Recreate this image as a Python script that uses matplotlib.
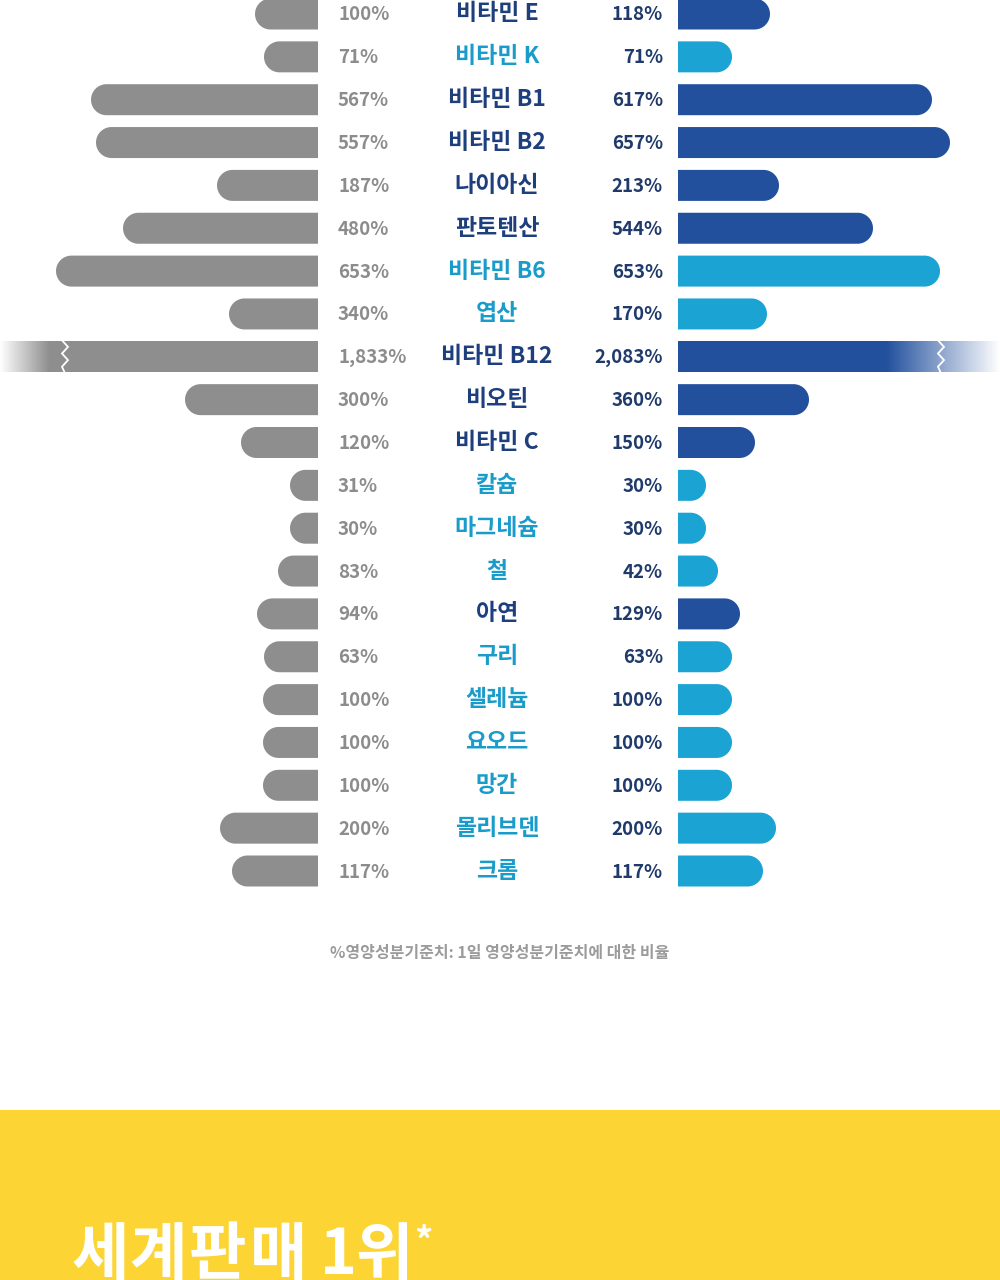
import numpy as np
import matplotlib
matplotlib.use("Agg")
import matplotlib.pyplot as plt
from matplotlib.patches import Polygon, Rectangle

plt.rcParams['font.family'] = ['Noto Sans CJK KR', 'DejaVu Sans']

# ---------------- data ----------------
nutrients = ['비타민 E', '비타민 K', '비타민 B1', '비타민 B2', '나이아신', '판토텐산',
             '비타민 B6', '엽산', '비타민 B12', '비오틴', '비타민 C', '칼슘', '마그네슘',
             '철', '아연', '구리', '셀레늄', '요오드', '망간', '몰리브덴', '크롬']
left_pct = ['100%', '71%', '567%', '557%', '187%', '480%', '653%', '340%', '1,833%',
            '300%', '120%', '31%', '30%', '83%', '94%', '63%', '100%', '100%', '100%',
            '200%', '117%']
right_pct = ['118%', '71%', '617%', '657%', '213%', '544%', '653%', '170%', '2,083%',
             '360%', '150%', '30%', '30%', '42%', '129%', '63%', '100%', '100%', '100%',
             '200%', '117%']
# displayed bar lengths (design scale); None = broken bar
left_bar = [63, 54, 227, 222, 101, 195, 262, 89, None, 133, 77, 28, 28, 40, 61, 54,
            55, 55, 55, 98, 86]
right_bar = [92, 54, 254, 272, 101, 195, 262, 89, None, 131, 77, 28, 28, 40, 62, 54,
             54, 54, 54, 98, 85]
# True = light-blue (cyan) row, False = dark-blue row
light_row = [False, True, False, False, False, False, True, True, False, False, False,
             True, True, True, False, True, True, True, True, True, True]
footnote = '%영양성분기준치: 1일 영양성분기준치에 대한 비율'
banner_chars = ['세', '계', '판', '매', '1', '위']
banner_star = '*'

# ---------------- style ----------------
GRAY = '#8e8e8e'
DARK = '#22509d'
LIGHT = '#1aa3d3'
DARK_TXT = '#1e3f7d'
LIGHT_TXT = '#1a9ccb'
LPCT = '#8c8c8c'
RPCT = '#1f3a6b'
YELLOW = '#FCD535'

W, H = 1000, 1280
LEFT_BASE, RIGHT_BASE = 318, 678
ROW0, STEP = 14, 42.85
BAR_H = 31

fig = plt.figure(figsize=(W / 100, H / 100), dpi=100)
ax = fig.add_axes([0, 0, 1, 1])
ax.set_xlim(0, W)
ax.set_ylim(H, 0)
ax.axis('off')


def rounded_bar(base, length, yc, direction, color):
    r = BAR_H / 2
    rx = min(r, length)
    straight = length - rx
    outer0 = base + direction * straight
    t = np.linspace(-np.pi / 2, np.pi / 2, 40)
    arc_x = outer0 + direction * rx * np.cos(t)
    arc_y = yc + r * np.sin(t)
    pts = [(base, yc - r), (outer0, yc - r)]
    pts += list(zip(arc_x, arc_y))
    pts += [(outer0, yc + r), (base, yc + r)]
    ax.add_patch(Polygon(pts, closed=True, facecolor=color, edgecolor='none', zorder=2))


def fade(x0, x1, yc, alpha_from, alpha_to):
    n = 64
    img = np.ones((1, n, 4))
    img[0, :, 3] = np.linspace(alpha_from, alpha_to, n)
    ax.imshow(img, extent=[x0, x1, yc + BAR_H / 2 + 1, yc - BAR_H / 2 - 1],
              interpolation='bilinear', aspect='auto', zorder=3)


def zigzag(x, yc):
    ys = np.linspace(yc - BAR_H / 2 - 1, yc + BAR_H / 2 + 1, 6)
    xs = [x, x + 6, x, x + 6, x, x + 3]
    ax.plot(xs, ys, color='white', lw=1.3, zorder=4, solid_joinstyle='miter')


for i, name in enumerate(nutrients):
    yc = ROW0 + STEP * i
    bar_color = LIGHT if light_row[i] else DARK
    if left_bar[i] is None:
        ax.add_patch(Rectangle((0, yc - BAR_H / 2), LEFT_BASE, BAR_H,
                               facecolor=GRAY, edgecolor='none', zorder=2))
        fade(0, 50, yc, 1.0, 0.0)
        zigzag(62, yc)
    else:
        rounded_bar(LEFT_BASE, left_bar[i], yc, -1, GRAY)
    if right_bar[i] is None:
        ax.add_patch(Rectangle((RIGHT_BASE, yc - BAR_H / 2), W - RIGHT_BASE, BAR_H,
                               facecolor=bar_color, edgecolor='none', zorder=2))
        fade(885, 1000, yc, 0.0, 1.0)
        zigzag(938, yc)
    else:
        rounded_bar(RIGHT_BASE, right_bar[i], yc, 1, bar_color)

    ax.text(338, yc + 1, left_pct[i], ha='left', va='center', fontsize=13.5,
            color=LPCT, fontweight='bold', zorder=5)
    ax.text(663, yc + 1, right_pct[i], ha='right', va='center', fontsize=13.5,
            color=RPCT, fontweight='bold', zorder=5)
    ax.text(497, yc, name, ha='center', va='center', fontsize=16.5,
            color=LIGHT_TXT if light_row[i] else DARK_TXT, fontweight='bold', zorder=5)

ax.text(500, 953, footnote, ha='center', va='center', fontsize=11.5,
        color='#9b9b9b', fontweight='bold')

ax.add_patch(Rectangle((0, 1110), W, H - 1110, facecolor=YELLOW, edgecolor='none', zorder=1))
banner_x = [72, 129, 189, 250, 320, 355]
for ch, bx in zip(banner_chars, banner_x):
    ax.text(bx, 1224, ch, ha='left', va='top', fontsize=45, color='white',
            fontweight='black', zorder=5)
ax.text(414, 1224, banner_star, ha='left', va='top', fontsize=26, color='white',
        fontweight='bold', zorder=5)

ax.set_xlim(0, W)
ax.set_ylim(H, 0)
fig.savefig('out.png', dpi=100, facecolor='white')
